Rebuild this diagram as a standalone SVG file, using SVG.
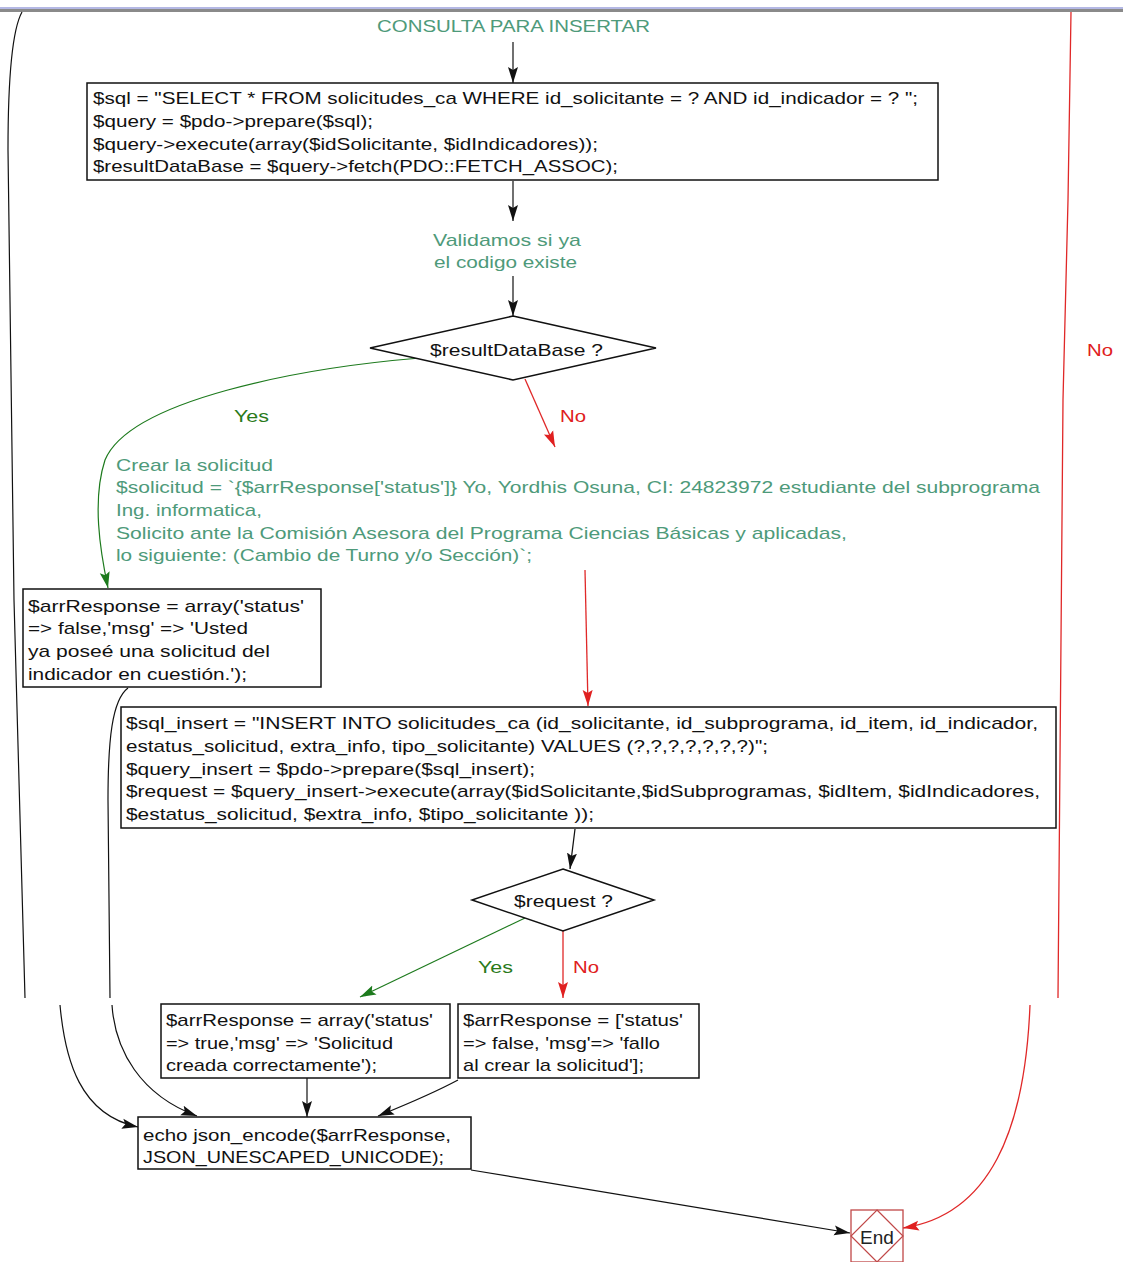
<svg xmlns="http://www.w3.org/2000/svg" width="1123" height="1262" viewBox="0 0 1123 1262">
<defs>
<style>
.code{font-family:"Liberation Sans",Arial,sans-serif;font-size:17px;fill:#111}
.note{font-family:"Liberation Sans",Arial,sans-serif;font-size:17px;fill:#4e9a7a}
.yes{font-family:"Liberation Sans",Arial,sans-serif;font-size:17px;fill:#2a7a1a}
.nol{font-family:"Liberation Sans",Arial,sans-serif;font-size:17px;fill:#e02020}
.box{fill:#fff;stroke:#111;stroke-width:1.5}
.dia{fill:#fff;stroke:#111;stroke-width:1.5}
.k{fill:none;stroke:#111;stroke-width:1.2}
.g{fill:none;stroke:#1d7a1d;stroke-width:1.2}
.r{fill:none;stroke:#e02828;stroke-width:1.3}
</style>
<marker id="ak" markerUnits="userSpaceOnUse" markerWidth="18" markerHeight="12" refX="16" refY="6" orient="auto"><path d="M0,1 L16,6 L0,11 L3,6 Z" fill="#111"/></marker>
<marker id="ag" markerUnits="userSpaceOnUse" markerWidth="18" markerHeight="12" refX="16" refY="6" orient="auto"><path d="M0,1 L16,6 L0,11 L3,6 Z" fill="#1d7a1d"/></marker>
<marker id="ar" markerUnits="userSpaceOnUse" markerWidth="18" markerHeight="12" refX="16" refY="6" orient="auto"><path d="M0,1 L16,6 L0,11 L3,6 Z" fill="#e02020"/></marker>
</defs>
<rect x="0" y="0" width="1123" height="1262" fill="#fff"/>
<rect x="0" y="7" width="1123" height="2" fill="#b4b8e4"/>
<rect x="0" y="9" width="1123" height="3" fill="#8a8a8a"/>

<g id="connectors">
<path class="k" d="M513,42 L513,83" marker-end="url(#ak)"/>
<path class="k" d="M513,181 L513,221" marker-end="url(#ak)"/>
<path class="k" d="M513,276 L513,316" marker-end="url(#ak)"/>
<path class="g" d="M420,358 C300,368 130,400 105,460 C92,500 100,550 108,588" marker-end="url(#ag)"/>
<text class="yes" x="234" y="422" textLength="35" lengthAdjust="spacingAndGlyphs">Yes</text>
<path class="r" d="M525,379 L555,447" marker-end="url(#ar)"/>
<text class="nol" x="560" y="422" textLength="26" lengthAdjust="spacingAndGlyphs">No</text>
<path class="r" d="M585,570 L588,706" marker-end="url(#ar)"/>
<path class="k" d="M575,829 L570,869" marker-end="url(#ak)"/>
<path class="g" d="M525,918 L360,997" marker-end="url(#ag)"/>
<text class="yes" x="478" y="973" textLength="35" lengthAdjust="spacingAndGlyphs">Yes</text>
<path class="r" d="M563,931 L563,998" marker-end="url(#ar)"/>
<text class="nol" x="573" y="973" textLength="26" lengthAdjust="spacingAndGlyphs">No</text>
<path class="k" d="M307,1078 L307,1117" marker-end="url(#ak)"/>
<path class="k" d="M458,1080 C430,1095 405,1105 378,1116" marker-end="url(#ak)"/>
<path class="k" d="M128,688 C112,700 108,740 108,800 L110,998"/>
<path class="k" d="M112,1005 C115,1050 140,1095 197,1116" marker-end="url(#ak)"/>
<path class="k" d="M22,12 C12,30 8,80 8,150 L14,600 L25,998"/>
<path class="k" d="M60,1005 C65,1060 80,1115 138,1127" marker-end="url(#ak)"/>
<path class="k" d="M471,1170 L850,1233" marker-end="url(#ak)"/>
<path class="r" d="M1071,12 L1068,200 L1063,400 L1058,998"/>
<path class="r" d="M1030,1005 C1025,1130 990,1215 903,1228" marker-end="url(#ar)"/>
<text class="nol" x="1087" y="356" textLength="26" lengthAdjust="spacingAndGlyphs">No</text>
</g>

<g id="label-consulta">
<text class="note" x="377" y="32" textLength="273" lengthAdjust="spacingAndGlyphs">CONSULTA PARA INSERTAR</text>
</g>

<g id="node-select">
<rect class="box" x="87" y="83" width="851" height="97"/>
<text class="code" x="93" y="104" textLength="825" lengthAdjust="spacingAndGlyphs">$sql = "SELECT * FROM solicitudes_ca WHERE id_solicitante = ? AND id_indicador = ? ";</text>
<text class="code" x="93" y="127" textLength="280" lengthAdjust="spacingAndGlyphs">$query = $pdo-&gt;prepare($sql);</text>
<text class="code" x="93" y="150" textLength="505" lengthAdjust="spacingAndGlyphs">$query-&gt;execute(array($idSolicitante, $idIndicadores));</text>
<text class="code" x="93" y="172" textLength="525" lengthAdjust="spacingAndGlyphs">$resultDataBase = $query-&gt;fetch(PDO::FETCH_ASSOC);</text>
</g>

<g id="label-validamos">
<text class="note" x="433" y="246" textLength="148" lengthAdjust="spacingAndGlyphs">Validamos si ya</text>
<text class="note" x="434" y="268" textLength="143" lengthAdjust="spacingAndGlyphs">el codigo existe</text>
</g>

<g id="node-decision1">
<polygon class="dia" points="513,316 656,348 513,380 370,348"/>
<text class="code" x="430" y="356" textLength="173" lengthAdjust="spacingAndGlyphs">$resultDataBase ?</text>
</g>

<g id="label-crear">
<text class="note" x="116" y="471" textLength="157" lengthAdjust="spacingAndGlyphs">Crear la solicitud</text>
<text class="note" x="116" y="493" textLength="924" lengthAdjust="spacingAndGlyphs">$solicitud = `{$arrResponse['status']} Yo, Yordhis Osuna, CI: 24823972 estudiante del subprograma</text>
<text class="note" x="116" y="516" textLength="146" lengthAdjust="spacingAndGlyphs">Ing. informatica,</text>
<text class="note" x="116" y="539" textLength="731" lengthAdjust="spacingAndGlyphs">Solicito ante la Comisión Asesora del Programa Ciencias Básicas y aplicadas,</text>
<text class="note" x="116" y="561" textLength="416" lengthAdjust="spacingAndGlyphs">lo siguiente: (Cambio de Turno y/o Sección)`;</text>
</g>

<g id="node-exists">
<rect class="box" x="23" y="589" width="298" height="98"/>
<text class="code" x="28" y="612" textLength="276" lengthAdjust="spacingAndGlyphs">$arrResponse = array('status'</text>
<text class="code" x="28" y="634" textLength="220" lengthAdjust="spacingAndGlyphs">=&gt; false,'msg' =&gt; 'Usted</text>
<text class="code" x="28" y="657" textLength="242" lengthAdjust="spacingAndGlyphs">ya poseé una solicitud del</text>
<text class="code" x="28" y="680" textLength="219" lengthAdjust="spacingAndGlyphs">indicador en cuestión.');</text>
</g>

<g id="node-insert">
<rect class="box" x="121" y="707" width="935" height="121"/>
<text class="code" x="126" y="729" textLength="912" lengthAdjust="spacingAndGlyphs">$sql_insert = "INSERT INTO solicitudes_ca (id_solicitante, id_subprograma, id_item, id_indicador,</text>
<text class="code" x="126" y="752" textLength="642" lengthAdjust="spacingAndGlyphs">estatus_solicitud, extra_info, tipo_solicitante) VALUES (?,?,?,?,?,?,?)";</text>
<text class="code" x="126" y="775" textLength="409" lengthAdjust="spacingAndGlyphs">$query_insert = $pdo-&gt;prepare($sql_insert);</text>
<text class="code" x="126" y="797" textLength="914" lengthAdjust="spacingAndGlyphs">$request = $query_insert-&gt;execute(array($idSolicitante,$idSubprogramas, $idItem, $idIndicadores,</text>
<text class="code" x="126" y="820" textLength="468" lengthAdjust="spacingAndGlyphs">$estatus_solicitud, $extra_info, $tipo_solicitante ));</text>
</g>

<g id="node-decision2">
<polygon class="dia" points="563,869 654,900 563,931 472,900"/>
<text class="code" x="514" y="907" textLength="99" lengthAdjust="spacingAndGlyphs">$request ?</text>
</g>

<g id="node-ok">
<rect class="box" x="161" y="1004" width="289" height="74"/>
<text class="code" x="166" y="1026" textLength="267" lengthAdjust="spacingAndGlyphs">$arrResponse = array('status'</text>
<text class="code" x="166" y="1049" textLength="227" lengthAdjust="spacingAndGlyphs">=&gt; true,'msg' =&gt; 'Solicitud</text>
<text class="code" x="166" y="1071" textLength="211" lengthAdjust="spacingAndGlyphs">creada correctamente');</text>
</g>

<g id="node-fail">
<rect class="box" x="458" y="1004" width="241" height="74"/>
<text class="code" x="463" y="1026" textLength="220" lengthAdjust="spacingAndGlyphs">$arrResponse = ['status'</text>
<text class="code" x="463" y="1049" textLength="197" lengthAdjust="spacingAndGlyphs">=&gt; false, 'msg'=&gt; 'fallo</text>
<text class="code" x="463" y="1071" textLength="181" lengthAdjust="spacingAndGlyphs">al crear la solicitud'];</text>
</g>

<g id="node-echo">
<rect class="box" x="138" y="1117" width="333" height="52"/>
<text class="code" x="143" y="1141" textLength="308" lengthAdjust="spacingAndGlyphs">echo json_encode($arrResponse,</text>
<text class="code" x="143" y="1163" textLength="301" lengthAdjust="spacingAndGlyphs">JSON_UNESCAPED_UNICODE);</text>
</g>

<g id="node-end">
<rect x="851" y="1210" width="52" height="52" fill="#fff" stroke="#c04848" stroke-width="1.3"/>
<polygon points="877,1210 903,1236 877,1262 851,1236" fill="none" stroke="#c04848" stroke-width="1.2"/>
<text x="877" y="1244" text-anchor="middle" font-family="Liberation Sans, Arial, sans-serif" font-size="19" fill="#222">End</text>
</g>
</svg>
